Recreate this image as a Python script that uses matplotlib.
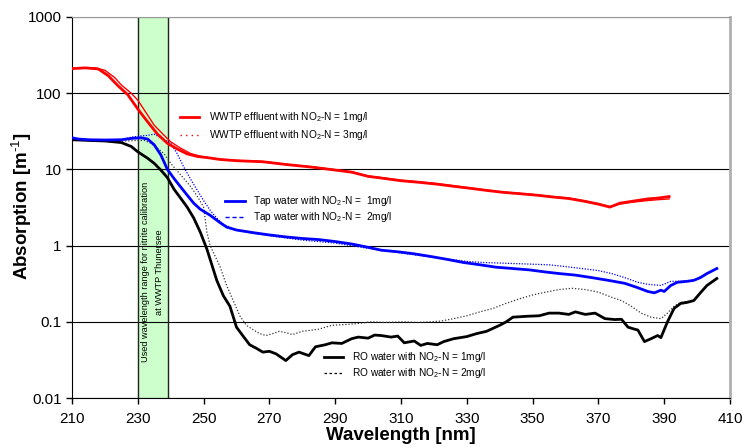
import matplotlib
matplotlib.use("Agg")
import matplotlib.pyplot as plt
from matplotlib.ticker import FixedLocator, FixedFormatter, NullLocator

plt.rcParams['font.family'] = ['Liberation Sans', 'DejaVu Sans']
plt.rcParams['mathtext.fontset'] = 'custom'
plt.rcParams['mathtext.rm'] = 'Liberation Sans'
plt.rcParams['mathtext.it'] = 'Liberation Sans:italic'
plt.rcParams['mathtext.bf'] = 'Liberation Sans:bold'

# ---------------- data ----------------
wl_wwtp1 = [210, 214, 218, 221, 224, 227, 230, 233, 236, 239, 242, 245, 248, 251, 255, 260, 268, 275,
            283, 290, 295, 300, 304, 310, 315, 321, 326, 331, 336, 341, 346, 351, 356, 361, 366, 370,
            373.5, 376.5, 380, 385, 388, 391.5]
abs_wwtp1 = [210, 215, 208, 170, 125, 95, 62, 42, 29, 22, 18.5, 16, 14.8, 14.3, 13.5, 13.0, 12.6, 11.6,
             10.7, 9.8, 9.2, 8.1, 7.7, 7.1, 6.8, 6.4, 6.0, 5.65, 5.3, 5.0, 4.8, 4.6, 4.35, 4.15, 3.8, 3.5,
             3.2, 3.6, 3.8, 4.1, 4.2, 4.4]

wl_wwtp3 = [210, 214, 217, 220, 223, 225, 228, 230, 232, 235, 238, 240, 243, 246, 250, 255, 260, 268,
            275, 283, 290, 295, 300, 304, 310, 315, 321, 326, 331, 336, 341, 346, 351, 356, 361, 366,
            370, 373.5, 376.5, 380, 385, 388, 391.5]
abs_wwtp3 = [212, 216, 215, 200, 160, 128, 100, 81, 60, 38, 28, 23, 19, 16.2, 14.5, 13.6, 13.1, 12.7,
             11.7, 10.8, 9.9, 9.3, 8.2, 7.8, 7.2, 6.9, 6.5, 6.1, 5.7, 5.35, 5.05, 4.85, 4.65, 4.4, 4.2, 3.85,
             3.55, 3.25, 3.5, 3.7, 3.9, 4.0, 4.1]

wl_tap1 = [210, 212, 215, 220, 225, 228, 231, 233, 235, 237, 239, 241, 243, 245, 247, 249, 252, 255,
           257, 260, 265, 270, 275, 280, 285, 290, 295, 300, 304, 309, 314, 319, 324, 329, 334, 339,
           344, 349, 354, 358, 363, 368, 373, 378, 382, 385, 387, 389, 390, 392, 394, 397, 399, 401,
           403, 406]
abs_tap1 = [26, 25, 24.5, 24.3, 24.5, 25.5, 26, 25, 21, 15.5, 10, 7.6, 5.9, 4.6, 3.6, 3.0, 2.5, 2.0,
            1.75, 1.6, 1.48, 1.38, 1.3, 1.24, 1.2, 1.13, 1.05, 0.95, 0.87, 0.83, 0.78, 0.72, 0.66, 0.6,
            0.56, 0.52, 0.5, 0.48, 0.45, 0.43, 0.41, 0.38, 0.35, 0.32, 0.28, 0.25, 0.24, 0.26, 0.25,
            0.3, 0.33, 0.34, 0.35, 0.38, 0.43, 0.5]

wl_tap2 = [210, 215, 220, 225, 228, 231, 233, 235, 237, 240, 242, 244, 246, 248, 250, 252, 254, 256,
           260, 265, 270, 280, 290, 300, 310, 320, 330, 335, 340, 345, 350, 355, 360, 365, 370, 374,
           378, 382, 385, 389, 392, 395, 399, 403, 406]
abs_tap2 = [25, 24.5, 24.3, 24.5, 26.5, 27.5, 28, 29, 26, 22, 16, 10.7, 7.5, 5.4, 3.9, 2.9, 2.3, 1.9,
            1.6, 1.45, 1.35, 1.18, 1.08, 0.92, 0.8, 0.7, 0.62, 0.6, 0.59, 0.58, 0.57, 0.56, 0.53, 0.5,
            0.47, 0.43, 0.38, 0.33, 0.31, 0.3, 0.34, 0.34, 0.35, 0.43, 0.5]

wl_ro1 = [210, 215, 220, 225, 228, 230, 233, 235, 237, 239, 241, 243, 245, 247, 249, 251, 254, 256,
          258, 260, 262, 264, 266, 268, 270, 272, 275, 277, 279, 282, 284, 287, 289, 292, 295, 297,
          300, 302, 304, 307, 309, 311, 314, 316, 318, 321, 323, 326, 330, 333, 336, 340, 342, 344,
          348, 352, 355, 358, 361, 363, 366, 369, 372, 375, 377, 379, 381, 382, 384, 386, 388, 389,
          391, 393, 395, 397, 399, 401, 403, 406]
abs_ro1 = [24.5, 24, 23.6, 22.5, 20, 17, 14, 12, 9.8, 7.8, 5.5, 4.2, 3.2, 2.3, 1.5, 0.9, 0.35, 0.22,
           0.16, 0.085, 0.065, 0.05, 0.045, 0.04, 0.041, 0.038, 0.031, 0.037, 0.04, 0.036, 0.047, 0.05,
           0.053, 0.052, 0.06, 0.063, 0.061, 0.067, 0.066, 0.063, 0.065, 0.053, 0.056, 0.049, 0.052,
           0.05, 0.055, 0.06, 0.064, 0.07, 0.075, 0.09, 0.1, 0.115, 0.118, 0.12, 0.13, 0.13, 0.125,
           0.135, 0.125, 0.13, 0.11, 0.107, 0.108, 0.085, 0.08, 0.078, 0.055, 0.06, 0.066, 0.062,
           0.1, 0.15, 0.174, 0.18, 0.19, 0.24, 0.3, 0.37]

wl_ro2 = [210, 215, 220, 225, 230, 232, 234, 236, 238, 240, 243, 246, 248, 250, 251, 252, 255, 257,
          259, 261, 263, 265, 267, 269, 271, 273, 275, 277, 280, 285, 289, 293, 297, 301, 305, 311,
          315, 319, 322, 326, 330, 334, 338, 342, 346, 350, 354, 358, 362, 366, 370, 374, 377, 380,
          383, 386, 389, 391, 393, 395, 397, 399, 401, 403, 406]
abs_ro2 = [24.5, 24, 23.8, 23.5, 24, 24, 22, 19, 16, 12, 8.5, 6, 4.5, 3.2, 1.5, 1.0, 0.53, 0.3,
           0.19, 0.12, 0.09, 0.079, 0.07, 0.066, 0.07, 0.075, 0.072, 0.068, 0.075, 0.08, 0.09, 0.092,
           0.095, 0.1, 0.098, 0.1, 0.098, 0.1, 0.102, 0.11, 0.12, 0.135, 0.15, 0.175, 0.2, 0.225,
           0.245, 0.265, 0.275, 0.265, 0.245, 0.21, 0.19, 0.16, 0.13, 0.115, 0.11, 0.13, 0.16, 0.18,
           0.185, 0.19, 0.24, 0.3, 0.37]

calib_range = [230, 239.1]
calib_text = "Used wavelength range for nitrite calibration\nat WWTP Thunersee"

x_ticks = [210, 230, 250, 270, 290, 310, 330, 350, 370, 390, 410]
y_ticks = [0.01, 0.1, 1, 10, 100, 1000]
y_ticklabels = ["0.01", "0.1", "1", "10", "100", "1000"]

legend_labels = [
    "WWTP effluent with NO$_2$-N = 1mg/l",
    "WWTP effluent with NO$_2$-N = 3mg/l",
    "Tap water with NO$_2$-N =  1mg/l",
    "Tap water with NO$_2$-N =  2mg/l",
    "RO water with NO$_2$-N = 1mg/l",
    "RO water with NO$_2$-N = 2mg/l",
]

# ---------------- figure ----------------
fig = plt.figure(figsize=(7.47, 4.47), dpi=100)
ax = fig.add_axes([72 / 747, 1 - 398 / 447, 658 / 747, 381 / 447])

ax.axvspan(calib_range[0], calib_range[1], color='#ccffcc', zorder=0)
for xv in calib_range:
    ax.axvline(xv, color='#222222', lw=1.0, zorder=1)
ax.text(sum(calib_range) / 2, 0.331, calib_text, rotation=90, ha='center', va='center',
        fontsize=6.6, linespacing=1.75, transform=ax.get_xaxis_transform(), zorder=2)

ax.plot(wl_ro2, abs_ro2, color='#333333', lw=0.9, ls=(0, (1, 1.5)), zorder=3)
ax.plot(wl_ro1, abs_ro1, color='black', lw=2.0, zorder=4)
ax.plot(wl_tap2, abs_tap2, color='#0000ff', lw=0.9, ls=(0, (1, 1.2)), zorder=3)
ax.plot(wl_tap1, abs_tap1, color='#0000ff', lw=2.0, zorder=4)
ax.plot(wl_wwtp3, abs_wwtp3, color='#ff0000', lw=1.0, zorder=3)
ax.plot(wl_wwtp1, abs_wwtp1, color='#ff0000', lw=2.0, zorder=4)

ax.set_yscale('log')
ax.set_xlim(210, 410)
ax.set_ylim(0.01, 1000)
ax.xaxis.set_major_locator(FixedLocator(x_ticks))
ax.yaxis.set_major_locator(FixedLocator(y_ticks))
ax.yaxis.set_major_formatter(FixedFormatter(y_ticklabels))
ax.yaxis.set_minor_locator(NullLocator())
ax.tick_params(axis='both', direction='out', length=4, width=1, labelsize=11, colors='black')
ax.tick_params(axis='x', pad=6)
ax.grid(axis='y', which='major', color='black', lw=0.8, zorder=1)
ax.set_axisbelow(True)

ax.spines['left'].set_color('black')
ax.spines['bottom'].set_color('black')
ax.spines['top'].set_color('#999999')
ax.spines['right'].set_color('#b0b0b0')
ax.spines['right'].set_linewidth(2)

ax.set_xlabel("Wavelength [nm]", fontsize=13.5, fontweight='bold', labelpad=1)
ax.set_ylabel("Absorption [m$^{\\mathbf{\\text{-1}}}$]", fontsize=13.5, fontweight='bold')
ax.yaxis.set_label_coords(-38 / 658, 0.504)

# legend entries (custom placement, as in the original)
entries = [
    (0.164, 0.193, 0.2085, 0.7375, dict(color='#ff0000', lw=2.0)),
    (0.164, 0.193, 0.2085, 0.690, dict(color='#ff0000', lw=1.0, ls=(0, (1, 3)))),
    (0.2325, 0.263, 0.275, 0.517, dict(color='#0000ff', lw=2.0)),
    (0.2325, 0.263, 0.275, 0.475, dict(color='#0000ff', lw=1.0, ls=(0, (3, 2)))),
    (0.383, 0.412, 0.4255, 0.1076, dict(color='black', lw=2.0)),
    (0.383, 0.412, 0.4255, 0.0656, dict(color='black', lw=0.9, ls=(0, (2, 2)))),
]
for (x0, x1, xt, yy, style), lab in zip(entries, legend_labels):
    ax.plot([x0, x1], [yy, yy], transform=ax.transAxes, clip_on=False, zorder=5, **style)
    ax.text(xt, yy, lab, transform=ax.transAxes, fontsize=7.3, ha='left', va='center', zorder=5)

fig.savefig("out.png", dpi=100)
